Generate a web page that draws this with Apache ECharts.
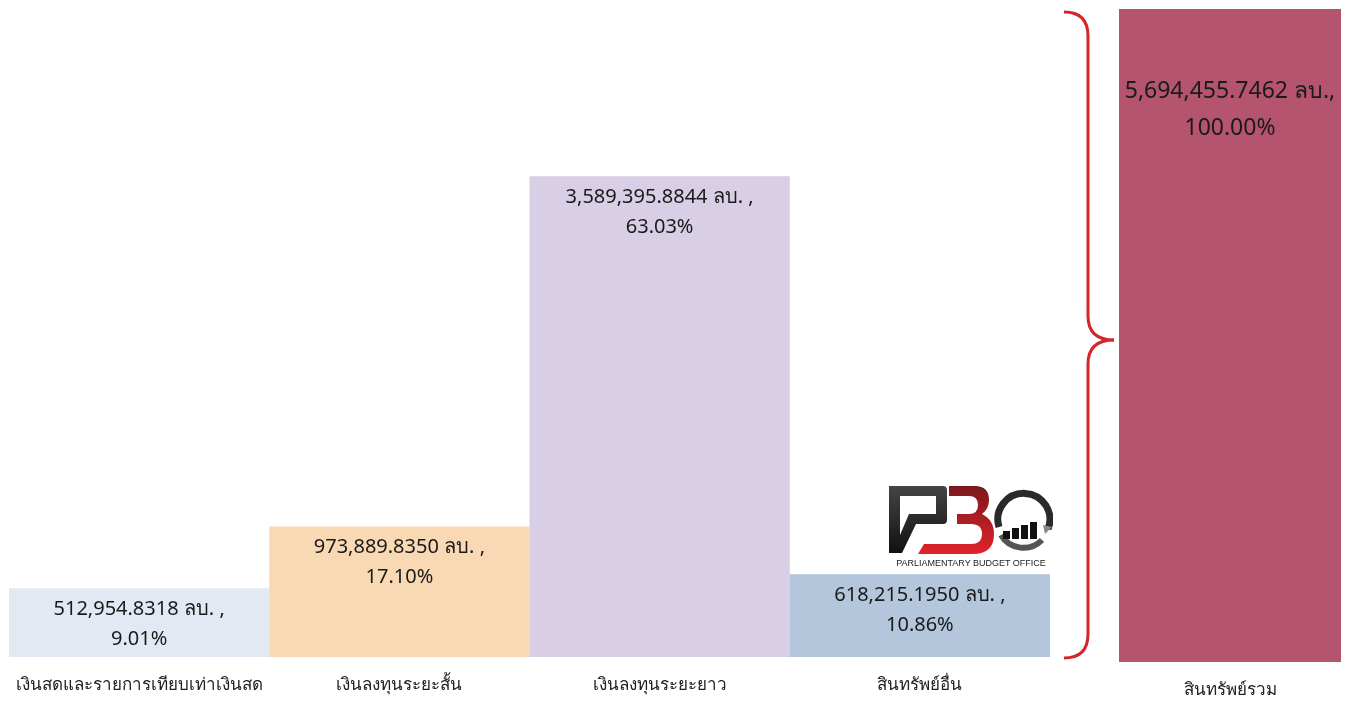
<!DOCTYPE html>
<html>
<head>
<meta charset="utf-8">
<title>สินทรัพย์รวม</title>
<script src="https://cdn.jsdelivr.net/npm/echarts@6/dist/echarts.min.js"></script>
<style>
    html, body { margin: 0; padding: 0; background: #fff; }
    #main { width: 1352px; height: 702px; }
</style>
</head>
<body>
<div id="main"></div>
<script>
// ข้อมูล
var categories = ['เงินสดและรายการเทียบเท่าเงินสด', 'เงินลงทุนระยะสั้น', 'เงินลงทุนระยะยาว', 'สินทรัพย์อื่น']
var values = [512954.8318, 973889.8350, 3589395.8844, 618215.1950]
var percents = ['9.01%', '17.10%', '63.03%', '10.86%']
var totalName = ['สินทรัพย์รวม']
var totalValues = [5694455.7462]
var totalPercents = ['100.00%']

var colors = ['#e3e9f2', '#f9d9b4', '#d8cee5', '#b4c6db']
var totalColor = '#b4546f'
var font = '"Noto Sans", sans-serif'

function fmt(v) {
    return v.toLocaleString('en-US', { minimumFractionDigits: 4, maximumFractionDigits: 4 })
}

var myChart = echarts.init(document.getElementById('main'))

var option = {
    animation: false,
    textStyle: { fontFamily: font },
    grid: [
        { left: 9, right: 302, top: 10, bottom: 45 },
        { left: 1119, right: 11, top: 9, bottom: 40 }
    ],
    xAxis: [
        {
            type: 'category',
            gridIndex: 0,
            data: categories,
            axisLine: { show: false },
            axisTick: { show: false },
            axisLabel: { color: '#222', fontSize: 17, margin: 20, interval: 0 }
        },
        {
            type: 'category',
            gridIndex: 1,
            data: totalName,
            axisLine: { show: false },
            axisTick: { show: false },
            axisLabel: { color: '#222', fontSize: 17, margin: 20 }
        }
    ],
    yAxis: [
        { type: 'value', gridIndex: 0, min: 0, max: 4830000, show: false },
        { type: 'value', gridIndex: 1, min: 0, max: totalValues[0], show: false }
    ],
    series: [
        {
            type: 'bar',
            xAxisIndex: 0,
            yAxisIndex: 0,
            barCategoryGap: '0%',
            silent: true,
            data: values.map(function(v, i) {
                return { value: v, itemStyle: { color: colors[i] } }
            }),
            label: {
                show: true,
                position: 'insideTop',
                distance: 6,
                color: '#1a1a1a',
                fontSize: 20,
                lineHeight: 30,
                formatter: function(p) {
                    return fmt(p.value) + ' ลบ. ,\n' + percents[p.dataIndex]
                }
            }
        },
        {
            type: 'bar',
            xAxisIndex: 1,
            yAxisIndex: 1,
            barCategoryGap: '0%',
            silent: true,
            data: totalValues,
            itemStyle: { color: totalColor },
            label: {
                show: true,
                position: 'insideTop',
                distance: 64,
                color: '#1a1a1a',
                fontSize: 23,
                lineHeight: 37,
                formatter: function(p) {
                    return fmt(p.value) + ' ลบ.,\n' + totalPercents[p.dataIndex]
                }
            }
        }
    ]
}
myChart.setOption(option)

// วงเล็บปีกกา
var yTop = myChart.convertToPixel({ yAxisIndex: 1 }, totalValues[0]) + 3
var yBot = myChart.convertToPixel({ yAxisIndex: 0 }, 0) + 1
var yMid = (yTop + yBot) / 2 + 5
var bx = 1088, bl = 1064, bt = 1114, r = 24
var braceStyle = { fill: null, stroke: '#d3262b', lineWidth: 3 }
var brace = [
    { type: 'bezierCurve', shape: { x1: bl, y1: yTop, cpx1: bx, cpy1: yTop, x2: bx, y2: yTop + r } },
    { type: 'line', shape: { x1: bx, y1: yTop + r, x2: bx, y2: yMid - r } },
    { type: 'bezierCurve', shape: { x1: bx, y1: yMid - r, cpx1: bx, cpy1: yMid, x2: bt, y2: yMid } },
    { type: 'bezierCurve', shape: { x1: bt, y1: yMid, cpx1: bx, cpy1: yMid, x2: bx, y2: yMid + r } },
    { type: 'line', shape: { x1: bx, y1: yMid + r, x2: bx, y2: yBot - r } },
    { type: 'bezierCurve', shape: { x1: bx, y1: yBot - r, cpx1: bx, cpy1: yBot, x2: bl, y2: yBot } }
].map(function(e) {
    e.style = braceStyle
    e.silent = true
    return e
})

// โลโก้ PBO
var logoSvg =
    '<svg xmlns="http://www.w3.org/2000/svg" width="166" height="86" viewBox="0 0 166 86">' +
    '<defs>' +
    '<linearGradient id="d" x1="0" y1="0" x2="0" y2="1"><stop offset="0" stop-color="#444"/><stop offset="1" stop-color="#111"/></linearGradient>' +
    '<linearGradient id="r" x1="0" y1="0" x2="0" y2="1"><stop offset="0" stop-color="#7a181d"/><stop offset="1" stop-color="#e3232b"/></linearGradient>' +
    '</defs>' +
    '<path fill="url(#d)" fill-rule="evenodd" d="M2 1 L56 1 Q60 1 60 5 L60 35 Q60 39 56 39 L29 39 L15 68 L2 68 Z M13 11 L13 50 L22 29 L49 29 L49 11 Z"/>' +
    '<path fill="url(#r)" d="M62 1 L88 1 Q102 1 102 15 Q102 24 95 29 Q107 35 107 49 Q107 69 86 69 L31 69 L37 59 L84 59 Q95 59 95 49 Q95 39 84 39 L70 39 L70 29 L82 29 Q91 29 91 20 Q91 11 82 11 L62 11 Z"/>' +
    '<path fill="none" stroke="#2a2a2a" stroke-width="7" d="M112 42 A26 26 0 1 1 161 44"/>' +
    '<path fill="none" stroke="#555" stroke-width="6" d="M155 55 A26 26 0 0 1 114 50"/>' +
    '<path fill="#888" d="M156 40 L165 42 L158 49 Z"/>' +
    '<rect x="116" y="46" width="7" height="8" fill="#111"/>' +
    '<rect x="125" y="43" width="7" height="11" fill="#111"/>' +
    '<rect x="134" y="40" width="7" height="14" fill="#111"/>' +
    '<rect x="143" y="37" width="7" height="17" fill="#111"/>' +
    '<text x="84" y="81" font-size="9" font-family="Liberation Sans, Arial, sans-serif" text-anchor="middle" fill="#222">PARLIAMENTARY BUDGET OFFICE</text>' +
    '</svg>'

myChart.setOption({
    graphic: brace.concat([
        {
            type: 'image',
            x: 887,
            y: 485,
            silent: true,
            style: {
                image: 'data:image/svg+xml;charset=utf-8,' + encodeURIComponent(logoSvg),
                width: 166,
                height: 86
            }
        }
    ])
})

window.addEventListener('resize', function() {
    myChart.resize()
})
</script>
</body>
</html>
